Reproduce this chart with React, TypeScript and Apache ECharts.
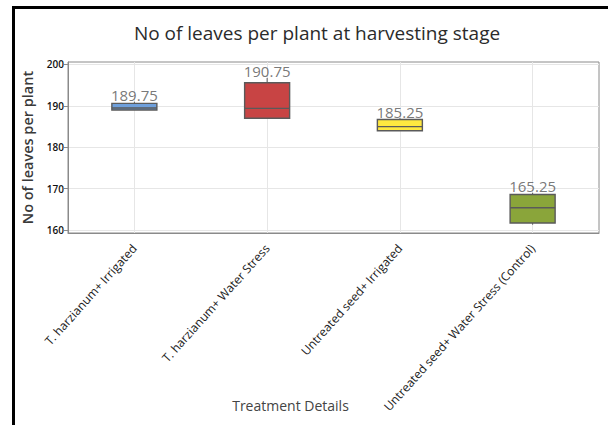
import React, { useEffect, useRef } from "react";
import * as echarts from "echarts";

const categories = [
  "T. harzianum+ Irrigated",
  "T. harzianum+ Water Stress",
  "Untreated seed+ Irrigated",
  "Untreated seed+ Water Stress (Control)",
];
// [min, Q1, median, Q3, max]
const boxValues = [
  [189.0, 189.0, 189.5, 190.6, 191.0],
  [187.0, 187.0, 189.4, 195.6, 196.75],
  [184.0, 184.0, 185.0, 186.7, 187.0],
  [161.3, 161.7, 165.4, 168.6, 169.0],
];
const meanValues = [189.75, 190.75, 185.25, 165.25];
const boxColors = ["#6E9FDB", "#C84444", "#FFE840", "#8AA53A"];
const yTicks = [160, 170, 180, 190, 200];

const FONT = "Open Sans";

export default function App() {
  const ref = useRef<HTMLDivElement>(null);
  useEffect(() => {
    if (!ref.current) return;
    const chart = echarts.init(ref.current, null, { renderer: "svg" });
    chart.setOption({
      animation: false,
      backgroundColor: "#ffffff",
      title: {
        text: "No of leaves per plant at harvesting stage",
        left: 312,
        textAlign: "center",
        top: 18,
        textStyle: {
          fontFamily: FONT,
          fontSize: 19,
          fontWeight: "normal",
          color: "#2b2b2b",
        },
      },
      grid: {
        left: 68,
        right: 9,
        top: 62,
        bottom: 192,
        show: true,
        borderColor: "#8a8a8a",
        borderWidth: 1,
        containLabel: false,
        outerBoundsMode: "none",
      },
      xAxis: {
        type: "category",
        data: categories,
        boundaryGap: true,
        name: "Treatment Details",
        nameLocation: "middle",
        nameGap: 165,
        nameMoveOverlap: false,
        nameTextStyle: {
          fontFamily: FONT,
          fontSize: 14,
          color: "#444",
          padding: [0, 86, 0, 0],
        },
        axisLine: { lineStyle: { color: "#8a8a8a" } },
        axisTick: { alignWithLabel: true, length: 4, lineStyle: { color: "#8a8a8a" } },
        axisLabel: {
          rotate: 48,
          interval: 0,
          fontFamily: FONT,
          fontSize: 12,
          color: "#222",
          margin: 13,
        },
        splitLine: { show: false },
      },
      yAxis: {
        type: "value",
        min: 159.3,
        max: 200.6,
        name: "No of leaves per plant",
        nameLocation: "middle",
        nameGap: 33,
        nameMoveOverlap: false,
        nameTextStyle: {
          fontFamily: FONT,
          fontSize: 14.5,
          fontWeight: 600,
          color: "#3a3a3a",
        },
        axisLine: { show: true, lineStyle: { color: "#8a8a8a" } },
        axisTick: { show: true, length: 4, lineStyle: { color: "#8a8a8a" }, customValues: yTicks },
        axisLabel: {
          fontFamily: FONT,
          fontSize: 10,
          fontWeight: 600,
          color: "#111",
          margin: 4,
          customValues: yTicks,
        },
        splitLine: { show: true, lineStyle: { color: "#e6e6e6" } },
      },
      series: [
        {
          type: "custom",
          data: boxValues.map((v, i) => [i, ...v]),
          encode: { x: 0, y: [1, 2, 3, 4, 5] },
          z: 3,
          markLine: {
            silent: true,
            symbol: "none",
            label: { show: false },
            lineStyle: { color: "#e6e6e6", type: "solid", width: 1 },
            data: categories.map((c) => ({ xAxis: c })),
            z: 1,
          },
          renderItem: (params: any, api: any) => {
            const i = api.value(0);
            const lo = api.coord([i, api.value(1)]);
            const q1 = api.coord([i, api.value(2)]);
            const med = api.coord([i, api.value(3)]);
            const q3 = api.coord([i, api.value(4)]);
            const hi = api.coord([i, api.value(5)]);
            const w = 45;
            const cx = lo[0];
            const stroke = "#5a5a5a";
            return {
              type: "group",
              children: [
                {
                  type: "line",
                  shape: { x1: cx, y1: hi[1], x2: cx, y2: q3[1] },
                  style: { stroke, lineWidth: 1 },
                },
                {
                  type: "line",
                  shape: { x1: cx, y1: q1[1], x2: cx, y2: lo[1] },
                  style: { stroke, lineWidth: 1 },
                },
                {
                  type: "rect",
                  shape: { x: cx - w / 2, y: q3[1], width: w, height: q1[1] - q3[1] },
                  style: { fill: boxColors[params.dataIndex], stroke, lineWidth: 1.4 },
                },
                {
                  type: "line",
                  shape: { x1: cx - w / 2, y1: med[1], x2: cx + w / 2, y2: med[1] },
                  style: { stroke, lineWidth: 1.4 },
                },
              ],
            };
          },
        },
        {
          type: "scatter",
          data: boxValues.map((v, i) => [i, v[4]]),
          symbolSize: 0,
          z: 4,
          label: {
            show: true,
            position: "top",
            distance: -1,
            formatter: (p: any) => meanValues[p.dataIndex].toFixed(2),
            fontFamily: FONT,
            fontSize: 15,
            color: "#555",
          },
        },
      ],
      graphic: [
        {
          type: "line",
          shape: { x1: 13.5, y1: 6, x2: 13.5, y2: 425 },
          style: { stroke: "#000", lineWidth: 3 },
        },
        {
          type: "line",
          shape: { x1: 12, y1: 7.5, x2: 608, y2: 7.5 },
          style: { stroke: "#000", lineWidth: 3 },
        },
      ],
    });
    return () => chart.dispose();
  }, []);
  return <div ref={ref} style={{ width: 608, height: 425, position: "absolute", left: 0, top: 0 }} />;
}
